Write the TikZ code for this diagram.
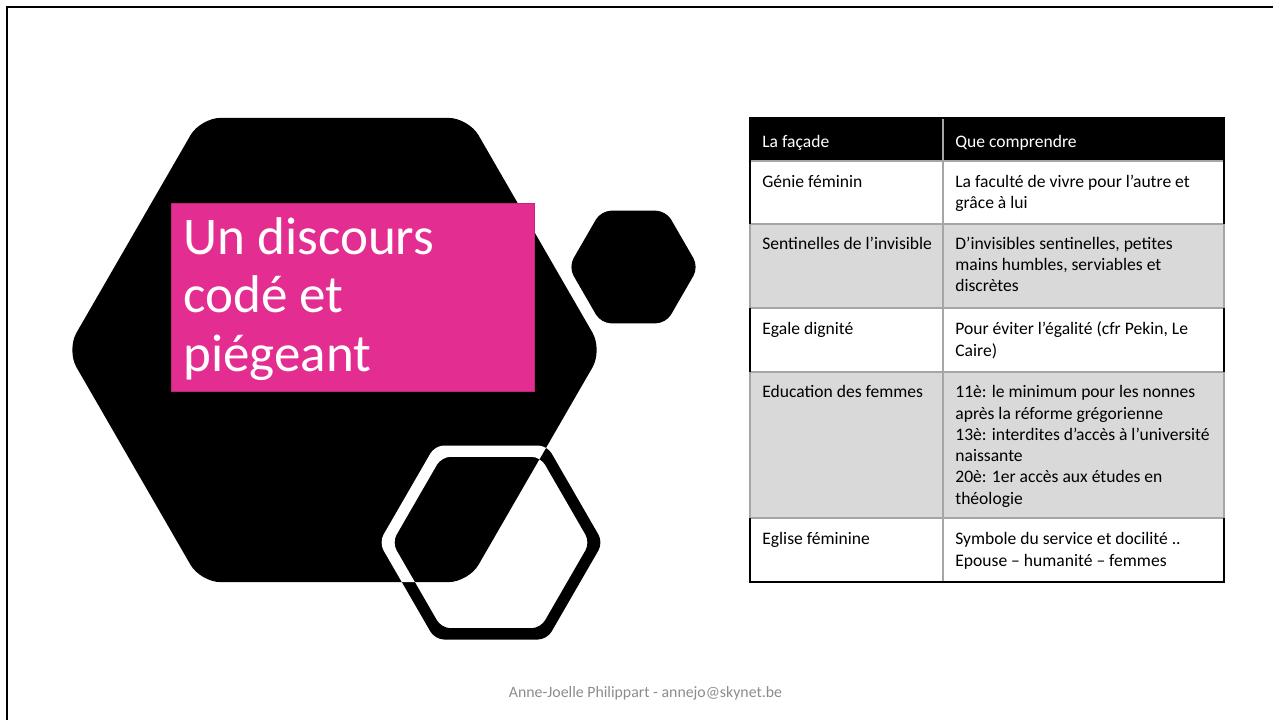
\documentclass[tikz,border=0pt]{standalone}
\usepackage{fontspec}
\setmainfont{Carlito}
\definecolor{rose}{HTML}{E32D91}
\definecolor{rosefonce}{HTML}{C0257A}
\definecolor{grisligne}{HTML}{D9D9D9}
\definecolor{grisfilet}{HTML}{A6A6A6}
\definecolor{grispied}{HTML}{8C8C8C}
\newcommand{\tabfont}{\fontsize{10}{12.1}\selectfont}
\newcommand{\titrefont}{\fontsize{30.2}{33.3}\selectfont}
% outer and inner outline of the bottom hexagon
\newcommand{\anneau}{(491,-445.5) -- (435,-445.5) -- (379,-542.5) -- (435,-639.5) -- (547,-639.5) -- (603,-542.5) -- (547,-445.5) -- cycle
    (491,-456.8) -- (441.5,-456.8) -- (392,-542.5) -- (441.5,-628.2) -- (540.5,-628.2) -- (590,-542.5) -- (540.5,-456.8) -- cycle}
\newcommand{\grandhex}{(334.5,-117.9) -- (200.5,-117.9) -- (66.5,-350) -- (200.5,-582.1) -- (468.5,-582.1) -- (602.5,-350) -- (468.5,-117.9) -- cycle}
\begin{document}
\begin{tikzpicture}[x=0.02cm, y=0.02cm]
    \tikzstyle{every node}+=[inner sep=0pt]
    \tikzstyle{cell}=[anchor=north west, align=left, font=\tabfont, text=black]
    \tikzstyle{filet}=[grisfilet, line width=0.6pt]
    \tikzstyle{bord}=[black, line width=1pt]
    \useasboundingbox (0,0) rectangle (1273,-720);
    \draw [black, line width=1.3pt] (7,-720) -- (7,-7) -- (1273,-7);
    % hexagons
    \fill [black, even odd rule, rounded corners=0.18cm] \anneau;
    \fill [black, rounded corners=0.4cm] \grandhex;
    \begin{scope}
    \clip [rounded corners=0.4cm] \grandhex;
    \fill [white, even odd rule, rounded corners=0.18cm] \anneau;
    \end{scope}
    \fill [black, rounded corners=0.2cm] (633.5,-210.7) -- (601,-210.7) -- (568.5,-267) -- (601,-323.3) -- (666,-323.3) -- (698.5,-267) -- (666,-210.7) -- cycle;
    % title
    \node [anchor=north west, fill=rose, draw=rosefonce, line width=0.6pt, minimum width=7.26cm, minimum height=3.76cm] (cadre) at (171,-203) {};
    \node [anchor=north west, align=left, font=\titrefont, text=white] (titre) at (183,-213) {\strut Un discours\\codé et\\piégeant};
    % table
    \fill [black] (750,-118) rectangle (1224,-161);
    \fill [white] (750,-161) rectangle (1224,-224);
    \fill [grisligne] (750,-224) rectangle (1224,-308);
    \fill [white] (750,-308) rectangle (1224,-372);
    \fill [grisligne] (750,-372) rectangle (1224,-518);
    \fill [white] (750,-518) rectangle (1224,-582);
    \draw [filet] (750,-161) -- (1224,-161);
    \draw [filet] (750,-224) -- (1224,-224);
    \draw [filet] (750,-308) -- (1224,-308);
    \draw [filet] (750,-372) -- (1224,-372);
    \draw [filet] (750,-518) -- (1224,-518);
    \draw [filet] (943,-118) -- (943,-582);
    \draw [filet] (750,-224) -- (750,-308);
    \draw [filet] (750,-372) -- (750,-518);
    \draw [filet] (1224,-224) -- (1224,-308);
    \draw [filet] (1224,-372) -- (1224,-518);
    \draw [bord] (750,-224) -- (750,-118) -- (1224,-118) -- (1224,-224);
    \draw [bord] (750,-308) -- (750,-372);
    \draw [bord] (1224,-308) -- (1224,-372);
    \draw [bord] (750,-518) -- (750,-582) -- (1224,-582) -- (1224,-518);
    \node [cell, text=white] (facade) at (762,-132.2) {\strut La façade};
    \node [cell, text=white] (comprendre) at (955,-132.2) {\strut Que comprendre};
    \node [cell] (genie) at (762,-172.2) {\strut Génie féminin};
    \node [cell] (faculte) at (955,-172.2) {\strut La faculté de vivre pour l’autre et\\grâce à lui};
    \node [cell] (sentinelles) at (762,-234.2) {\strut Sentinelles de l’invisible};
    \node [cell] (invisibles) at (955,-234.2) {\strut D’invisibles sentinelles, petites\\mains humbles, serviables et\\discrètes};
    \node [cell] (dignite) at (762,-319.6) {\strut Egale dignité};
    \node [cell] (egalite) at (955,-319.6) {\strut Pour éviter l’égalité (cfr Pekin, Le\\Caire)};
    \node [cell] (education) at (762,-382.6) {\strut Education des femmes};
    \node [cell] (siecles) at (955,-382.6) {\strut 11è: le minimum pour les nonnes\\après la réforme grégorienne\\13è: interdites d’accès à l’université\\naissante\\20è: 1er accès aux études en\\théologie};
    \node [cell] (eglise) at (762,-529.6) {\strut Eglise féminine};
    \node [cell] (symbole) at (955,-529.6) {\strut Symbole du service et docilité ..\\Epouse – humanité – femmes};
    % footer
    \node [font=\fontsize{9}{11}\selectfont, text=grispied] (pied) at (645.5,-693) {Anne-Joelle Philippart - annejo@skynet.be};
\end{tikzpicture}
\end{document}
